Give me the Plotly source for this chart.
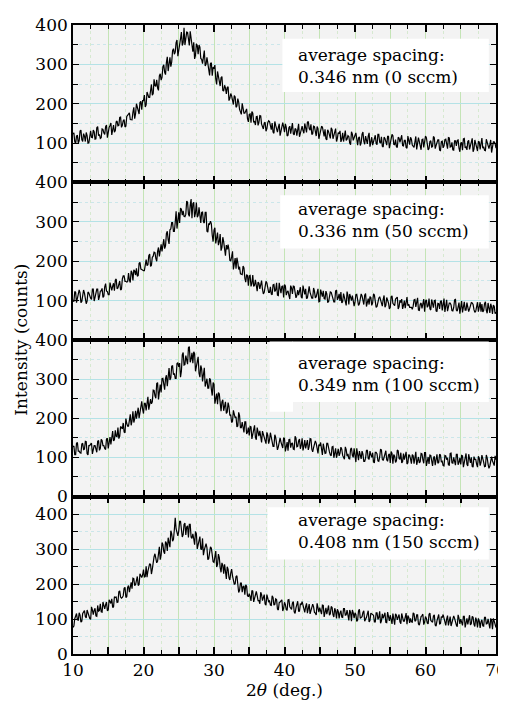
import plotly.graph_objects as go

# ---------------- data ----------------
# 2-theta sampling: main points every 0.25 deg from 10 to 70,
# plus the in-between readings at 10.125 + 0.25*k
two_theta = [10 + 0.25 * i for i in range(241)]
two_theta_mid = [10.125 + 0.25 * k for k in range(240)]

int_0sccm = [
    123, 104, 118, 100, 131, 109, 124, 104, 119, 101, 131, 114, 129, 111, 142, 122,
    114, 135, 122, 146, 129, 145, 121, 146, 132, 156, 145, 166, 145, 160, 143, 171,
    177, 159, 178, 162, 200, 181, 203, 185, 208, 192, 230, 216, 238, 222, 262, 244,
    240, 271, 260, 294, 280, 305, 283, 318, 306, 340, 331, 362, 341, 365, 348, 393,
    362, 381, 348, 368, 332, 314, 352, 326, 344, 313, 326, 296, 318, 293, 302, 271,
    289, 263, 282, 257, 266, 234, 247, 225, 243, 214, 220, 198, 217, 194, 204, 176,
    201, 176, 185, 162, 173, 152, 176, 155, 167, 145, 170, 148, 136, 153, 137, 157,
    138, 151, 125, 145, 128, 149, 134, 152, 128, 140, 120, 143, 144, 124, 137, 119,
    149, 128, 143, 125, 140, 153, 137, 148, 124, 142, 118, 137, 120, 142, 122, 135,
    108, 129, 112, 134, 119, 137, 112, 124, 103, 126, 127, 107, 119, 100, 129, 107,
    120, 100, 113, 94, 123, 105, 118, 98, 126, 105, 95, 114, 99, 122, 102, 116,
    90, 112, 95, 117, 103, 122, 97, 109, 89, 113, 114, 94, 107, 89, 118, 96,
    110, 90, 103, 84, 114, 96, 109, 89, 118, 97, 86, 106, 91, 114, 94, 108,
    82, 104, 88, 109, 95, 114, 90, 102, 82, 106, 107, 87, 100, 82, 112, 90,
    104, 84, 97, 78, 108, 90, 104, 84, 113, 91, 81, 101, 86, 108, 89, 103,
    87,
]
int_0sccm_mid = [
    126, 98, 119, 106, 133, 104, 118, 127, 100, 125, 115, 133, 110, 139, 119, 112,
    136, 126, 142, 114, 140, 151, 130, 128, 154, 144, 165, 140, 157, 141, 168, 176,
    160, 159, 191, 175, 188, 174, 206, 208, 222, 197, 224, 216, 249, 226, 246, 261,
    234, 276, 267, 299, 274, 319, 297, 294, 335, 326, 355, 321, 362, 382, 355, 349,
    382, 363, 384, 340, 356, 323, 348, 349, 315, 302, 335, 301, 306, 272, 304, 293,
    298, 249, 272, 245, 269, 232, 240, 241, 208, 226, 209, 221, 191, 213, 186, 173,
    192, 176, 187, 154, 174, 180, 154, 146, 168, 153, 169, 139, 151, 130, 152, 155,
    134, 128, 155, 133, 140, 119, 146, 141, 149, 118, 139, 124, 151, 121, 135, 143,
    116, 141, 132, 150, 127, 155, 133, 122, 143, 129, 142, 111, 133, 141, 117, 111,
    134, 121, 139, 111, 124, 104, 127, 131, 110, 104, 132, 110, 117, 96, 123, 118,
    126, 95, 116, 101, 128, 97, 111, 118, 91, 115, 103, 120, 96, 122, 100, 92,
    115, 102, 117, 87, 111, 119, 96, 91, 115, 102, 120, 93, 107, 87, 110, 115,
    95, 89, 117, 96, 104, 83, 110, 106, 114, 83, 104, 90, 117, 86, 100, 108,
    81, 105, 93, 110, 86, 113, 91, 83, 106, 93, 108, 78, 102, 111, 88, 83,
    107, 94, 112, 85, 99, 80, 103, 108, 87, 82, 110, 89, 96, 76, 103, 99,
]

int_50sccm = [
    102, 123, 95, 116, 120, 98, 127, 106, 99, 119, 106, 129, 99, 119, 129, 110,
    125, 108, 135, 124, 115, 146, 126, 144, 152, 130, 144, 127, 155, 163, 149, 148,
    152, 176, 151, 175, 182, 164, 197, 179, 176, 199, 189, 214, 187, 210, 223, 207,
    225, 212, 243, 236, 232, 270, 255, 280, 298, 276, 299, 283, 324, 335, 317, 314,
    319, 350, 314, 358, 346, 312, 349, 316, 303, 324, 300, 324, 276, 296, 302, 266,
    279, 245, 273, 249, 227, 261, 223, 241, 242, 202, 211, 179, 208, 209, 179, 168,
    166, 183, 147, 164, 163, 136, 165, 139, 128, 147, 130, 151, 117, 136, 145, 121,
    135, 115, 141, 127, 114, 145, 119, 137, 141, 114, 125, 104, 132, 137, 118, 113,
    114, 134, 106, 126, 130, 107, 136, 114, 106, 124, 110, 130, 98, 117, 125, 104,
    117, 97, 122, 108, 97, 125, 102, 117, 122, 97, 108, 88, 113, 117, 100, 95,
    96, 116, 88, 108, 112, 90, 118, 97, 90, 108, 94, 114, 83, 102, 110, 89,
    103, 83, 108, 94, 83, 112, 89, 104, 109, 84, 95, 79, 100, 105, 87, 83,
    83, 86, 103, 97, 76, 91, 80, 104, 99, 83, 105, 76, 87, 100, 74, 93,
    79, 100, 90, 71, 102, 81, 94, 75, 82, 103, 73, 95, 91, 70, 97, 76,
    75, 79, 95, 90, 70, 84, 72, 96, 91, 75, 97, 68, 79, 92, 66, 85,
    71,
]
int_50sccm_mid = [
    97, 121, 104, 127, 95, 114, 119, 92, 122, 109, 103, 129, 108, 129, 102, 124,
    131, 111, 143, 123, 115, 139, 137, 125, 155, 132, 150, 129, 163, 149, 147, 170,
    146, 171, 178, 165, 162, 195, 180, 176, 176, 204, 191, 218, 190, 213, 222, 200,
    235, 227, 225, 256, 239, 276, 244, 282, 298, 276, 327, 304, 297, 332, 328, 313,
    353, 320, 342, 309, 350, 323, 312, 337, 297, 325, 297, 324, 274, 294, 295, 250,
    285, 258, 241, 269, 235, 249, 214, 230, 229, 201, 225, 197, 181, 197, 186, 167,
    188, 157, 166, 138, 164, 144, 136, 153, 124, 144, 147, 129, 121, 149, 130, 121,
    117, 140, 123, 145, 113, 131, 136, 108, 137, 122, 113, 138, 117, 136, 107, 127,
    131, 109, 138, 116, 105, 127, 121, 106, 132, 107, 121, 97, 128, 110, 105, 124,
    96, 118, 121, 105, 97, 126, 107, 99, 94, 118, 100, 123, 90, 109, 113, 86,
    115, 101, 92, 117, 95, 114, 85, 105, 110, 88, 117, 95, 85, 106, 101, 86,
    113, 88, 102, 79, 110, 93, 87, 107, 79, 101, 104, 88, 81, 109, 91, 82,
    78, 102, 84, 107, 75, 94, 99, 72, 102, 87, 79, 103, 82, 101, 72, 92,
    98, 75, 105, 82, 73, 94, 89, 74, 102, 76, 91, 67, 99, 81, 76, 95,
    72, 90, 94, 77, 73, 96, 81, 72, 71, 92, 75, 94, 69, 84, 89, 67,
]

int_100sccm = [
    127, 107, 136, 116, 112, 134, 120, 141, 110, 130, 134, 109, 130, 119, 141, 118,
    146, 130, 123, 147, 123, 152, 150, 142, 169, 153, 148, 179, 173, 165, 199, 180,
    200, 182, 218, 199, 199, 227, 215, 243, 212, 238, 246, 222, 249, 242, 271, 251,
    291, 273, 266, 302, 273, 310, 309, 298, 333, 311, 302, 340, 331, 305, 362, 336,
    360, 338, 383, 351, 341, 365, 336, 357, 305, 326, 323, 281, 301, 277, 298, 258,
    287, 256, 236, 262, 218, 247, 235, 212, 240, 207, 189, 220, 201, 178, 215, 176,
    190, 164, 191, 164, 156, 178, 160, 182, 145, 166, 168, 138, 159, 143, 164, 135,
    163, 141, 128, 151, 119, 146, 139, 124, 148, 126, 117, 146, 135, 121, 154, 127,
    142, 122, 149, 129, 123, 144, 128, 147, 114, 133, 136, 110, 129, 116, 135, 110,
    136, 117, 106, 127, 99, 123, 117, 104, 126, 105, 95, 120, 109, 96, 124, 100,
    99, 123, 93, 106, 116, 90, 98, 118, 95, 107, 112, 86, 113, 91, 101, 119,
    92, 115, 94, 106, 86, 110, 107, 87, 119, 97, 112, 89, 94, 114, 86, 105,
    84, 104, 106, 81, 101, 89, 109, 85, 112, 94, 83, 105, 78, 103, 97, 85,
    108, 88, 79, 105, 94, 81, 110, 86, 100, 80, 108, 87, 82, 104, 89, 110,
    78, 97, 100, 75, 95, 83, 103, 79, 106, 88, 77, 99, 72, 97, 91, 79,
    94,
]
int_100sccm_mid = [
    129, 107, 138, 116, 111, 136, 121, 140, 106, 130, 136, 117, 130, 113, 143, 123,
    143, 130, 120, 149, 148, 133, 167, 145, 154, 176, 154, 177, 188, 163, 187, 180,
    210, 194, 189, 219, 216, 200, 229, 223, 238, 220, 255, 237, 237, 272, 257, 289,
    248, 286, 301, 279, 302, 282, 328, 303, 334, 315, 302, 342, 341, 320, 368, 337,
    349, 380, 343, 367, 370, 320, 339, 315, 335, 294, 329, 291, 277, 302, 274, 291,
    237, 263, 266, 232, 242, 219, 242, 216, 230, 209, 192, 213, 204, 180, 207, 176,
    177, 191, 160, 176, 179, 147, 165, 151, 176, 154, 143, 167, 158, 135, 157, 144,
    153, 128, 158, 133, 127, 150, 133, 150, 115, 139, 145, 125, 137, 120, 149, 128,
    147, 131, 118, 144, 139, 119, 148, 121, 125, 142, 115, 133, 138, 106, 124, 111,
    136, 114, 104, 128, 120, 99, 122, 111, 121, 97, 127, 103, 97, 121, 105, 123,
    88, 111, 116, 96, 108, 90, 118, 97, 116, 100, 88, 113, 109, 90, 121, 95,
    100, 117, 90, 109, 115, 84, 103, 91, 117, 95, 86, 110, 103, 83, 107, 96,
    107, 84, 114, 91, 86, 110, 94, 112, 78, 101, 106, 86, 98, 80, 108, 87,
    106, 90, 78, 104, 99, 80, 111, 85, 90, 108, 81, 99, 105, 75, 94, 82,
    108, 86, 77, 102, 95, 75, 98, 88, 99, 76, 106, 83, 78, 102, 86, 104,
]

int_150sccm = [
    76, 101, 116, 97, 111, 94, 121, 107, 126, 105, 99, 126, 125, 109, 139, 125,
    121, 149, 129, 149, 126, 148, 158, 135, 162, 148, 178, 163, 162, 188, 162, 191,
    177, 205, 217, 196, 211, 196, 230, 219, 242, 222, 220, 253, 256, 243, 279, 269,
    266, 307, 283, 314, 287, 317, 333, 306, 344, 328, 390, 351, 352, 380, 335, 371,
    341, 367, 371, 335, 344, 313, 344, 317, 336, 299, 283, 313, 304, 273, 307, 277,
    262, 295, 256, 276, 234, 254, 257, 215, 242, 212, 243, 213, 201, 224, 176, 203,
    177, 195, 198, 167, 173, 152, 180, 162, 179, 153, 144, 170, 166, 143, 170, 150,
    140, 167, 140, 158, 129, 147, 153, 123, 148, 127, 155, 135, 128, 150, 116, 142,
    123, 143, 150, 126, 136, 117, 143, 127, 143, 119, 112, 136, 133, 114, 139, 122,
    114, 139, 115, 133, 106, 123, 128, 102, 124, 105, 130, 112, 106, 126, 94, 118,
    118, 93, 123, 102, 107, 124, 98, 115, 92, 117, 111, 92, 118, 99, 122, 95,
    102, 118, 90, 108, 111, 86, 92, 115, 98, 113, 87, 104, 94, 117, 110, 89,
    92, 118, 94, 112, 86, 104, 110, 84, 107, 89, 114, 96, 91, 112, 80, 104,
    86, 107, 113, 90, 100, 82, 107, 92, 109, 86, 78, 103, 100, 82, 108, 92,
    85, 111, 87, 105, 79, 96, 102, 75, 98, 80, 105, 87, 82, 102, 71, 94,
    76,
]
int_150sccm_mid = [
    80, 111, 98, 118, 91, 116, 124, 103, 116, 102, 135, 113, 131, 108, 123, 144,
    120, 141, 141, 124, 155, 145, 133, 164, 163, 149, 181, 160, 167, 191, 164, 196,
    195, 187, 216, 199, 222, 199, 224, 226, 220, 251, 237, 259, 229, 270, 287, 261,
    284, 270, 319, 293, 322, 295, 319, 353, 323, 356, 358, 338, 380, 363, 342, 375,
    364, 334, 371, 331, 330, 351, 301, 333, 301, 331, 298, 316, 270, 298, 303, 264,
    275, 249, 286, 248, 261, 230, 237, 250, 218, 232, 224, 200, 222, 202, 182, 203,
    193, 170, 194, 164, 164, 182, 149, 174, 167, 153, 177, 153, 170, 140, 157, 152,
    139, 162, 142, 156, 126, 149, 155, 131, 141, 125, 156, 131, 146, 121, 132, 151,
    123, 142, 138, 119, 145, 131, 115, 141, 135, 117, 145, 120, 122, 140, 106, 132,
    125, 111, 136, 113, 131, 102, 122, 118, 106, 130, 111, 126, 96, 119, 126, 103,
    113, 97, 128, 104, 119, 94, 105, 124, 96, 115, 111, 92, 118, 104, 88, 115,
    110, 91, 120, 95, 98, 116, 84, 111, 105, 92, 116, 94, 113, 85, 105, 102,
    91, 115, 96, 112, 83, 107, 114, 91, 102, 86, 117, 93, 109, 83, 95, 113,
    87, 105, 102, 82, 110, 95, 80, 106, 102, 83, 112, 86, 90, 108, 76, 102,
    97, 83, 108, 85, 104, 76, 95, 92, 81, 105, 86, 101, 73, 96, 102, 79,
]

series = [(int_0sccm, int_0sccm_mid), (int_50sccm, int_50sccm_mid),
          (int_100sccm, int_100sccm_mid), (int_150sccm, int_150sccm_mid)]
labels = [
    "average spacing:<br>0.346 nm (0 sccm)",
    "average spacing:<br>0.336 nm (50 sccm)",
    "average spacing:<br>0.349 nm (100 sccm)",
    "average spacing:<br>0.408 nm (150 sccm)",
]
x_tick_vals = [10, 15, 20, 25, 30, 35, 40, 45, 50, 55, 60, 65, 70]
x_tick_text = ["10", "", "20", "", "30", "", "40", "", "50", "", "60", "", "70"]
y_ranges = [[0, 400], [0, 400], [0, 400], [0, 451]]
y_tick_vals = [[100, 200, 300, 400], [100, 200, 300, 400],
               [0, 100, 200, 300, 400], [0, 100, 200, 300, 400]]


def merge(main, mid):
    xs, ys = [], []
    for k in range(len(mid)):
        xs += [two_theta[k], two_theta_mid[k]]
        ys += [main[k], mid[k]]
    xs.append(two_theta[-1])
    ys.append(main[-1])
    return xs, ys


# ---------------- styling ----------------
FONT = "DejaVu Serif"
# the page places the figure 8px from the top-left corner
W, H = 506, 701
ML, MR, MT, MB = 65, 17, 7, 55
plot_h = H - MT - MB            # 639
panel_px = [(15, 175), (175, 335), (335, 494), (494, 654)]
domains = [[(654 - b) / plot_h, (654 - t) / plot_h] for (t, b) in panel_px]

GREEN = "#c4e4b6"
GREEN_DOT = "#d6e9d0"
CYAN = "#b4e2e6"
CYAN_DOT = "#cbe6ea"

fig = go.Figure()
layout = dict(
    width=W, height=H,
    margin=dict(l=ML, r=MR, t=MT, b=MB),
    paper_bgcolor="white",
    plot_bgcolor="#f3f3f3",
    showlegend=False,
    font=dict(family=FONT, size=17, color="black"),
)

for i in range(4):
    n = i + 1
    xa = "x" if n == 1 else f"x{n}"
    ya = "y" if n == 1 else f"y{n}"
    xs, ys = merge(*series[i])
    fig.add_trace(go.Scatter(
        x=xs, y=ys, mode="lines",
        line=dict(color="black", width=1.2),
        xaxis=xa, yaxis=ya, hoverinfo="skip",
    ))
    xkey = "xaxis" if n == 1 else f"xaxis{n}"
    ykey = "yaxis" if n == 1 else f"yaxis{n}"
    layout[xkey] = dict(
        domain=[0, 1], anchor=ya, range=[10, 70],
        showline=True, linecolor="black", linewidth=1.6, mirror="allticks",
        ticks="inside", ticklen=7, tickwidth=1.5, tickcolor="black",
        tickmode="array", tickvals=x_tick_vals, ticktext=x_tick_text,
        showticklabels=(n == 4),
        showgrid=True, gridcolor=GREEN, gridwidth=1,
        zeroline=False,
        minor=dict(ticks="inside", ticklen=4, tickwidth=1.3, tickcolor="black",
                   dtick=2.5, tick0=0, showgrid=True, gridcolor=GREEN_DOT,
                   griddash="dot", gridwidth=1),
        tickfont=dict(family=FONT, size=17, color="black"),
    )
    if n < 4:
        layout[xkey]["matches"] = "x4"
    layout[ykey] = dict(
        domain=domains[i], anchor=xa, range=y_ranges[i],
        showline=True, linecolor="black", linewidth=1.6, mirror="allticks",
        ticks="inside", ticklen=6, tickwidth=1.3, tickcolor="black",
        tickmode="array", tickvals=y_tick_vals[i],
        showgrid=True, gridcolor=CYAN, gridwidth=1,
        zeroline=False,
        minor=dict(ticks="inside", ticklen=5, tickwidth=1.3, tickcolor="black",
                   dtick=50, tick0=0, showgrid=True, gridcolor=CYAN_DOT,
                   griddash="dot", gridwidth=1),
        tickfont=dict(family=FONT, size=17, color="black"),
    )

fig.update_layout(**layout)

# white label boxes (in axis-domain fractions)
boxes = [
    (0.495, 0.983, 0.575, 0.912),
    (0.490, 0.983, 0.581, 0.919),
    (0.519, 0.983, 0.604, 0.990),
    (0.460, 0.983, 0.600, 0.931),
]
text_y = [0.741, 0.759, 0.780, 0.778]
for i in range(4):
    n = i + 1
    xr = "x domain" if n == 1 else f"x{n} domain"
    yr = "y domain" if n == 1 else f"y{n} domain"
    x0, x1, y0, y1 = boxes[i]
    fig.add_shape(type="rect", xref=xr, yref=yr, x0=x0, x1=x1, y0=y0, y1=y1,
                  fillcolor="white", line=dict(width=0), layer="above")
    fig.add_annotation(xref=xr, yref=yr, x=0.527, y=text_y[i],
                       xanchor="left", yanchor="middle", align="left",
                       text=labels[i], showarrow=False,
                       font=dict(family=FONT, size=17, color="black"))
# extra white strip left of panel-3 box
fig.add_shape(type="rect", xref="x3 domain", yref="y3 domain",
              x0=0.465, x1=0.52, y0=0.541, y1=0.99,
              fillcolor="white", line=dict(width=0), layer="above")

fig.add_annotation(xref="paper", yref="paper", x=-0.125, y=0.5,
                   text="Intensity (counts)", textangle=-90, showarrow=False,
                   xanchor="center", yanchor="middle",
                   font=dict(family=FONT, size=17, color="black"))
fig.add_annotation(xref="paper", yref="paper", x=0.5, y=(654 - 691) / plot_h,
                   text="2<i>θ</i> (deg.)", showarrow=False,
                   xanchor="center", yanchor="middle",
                   font=dict(family=FONT, size=17, color="black"))

fig.write_html("out.html")
